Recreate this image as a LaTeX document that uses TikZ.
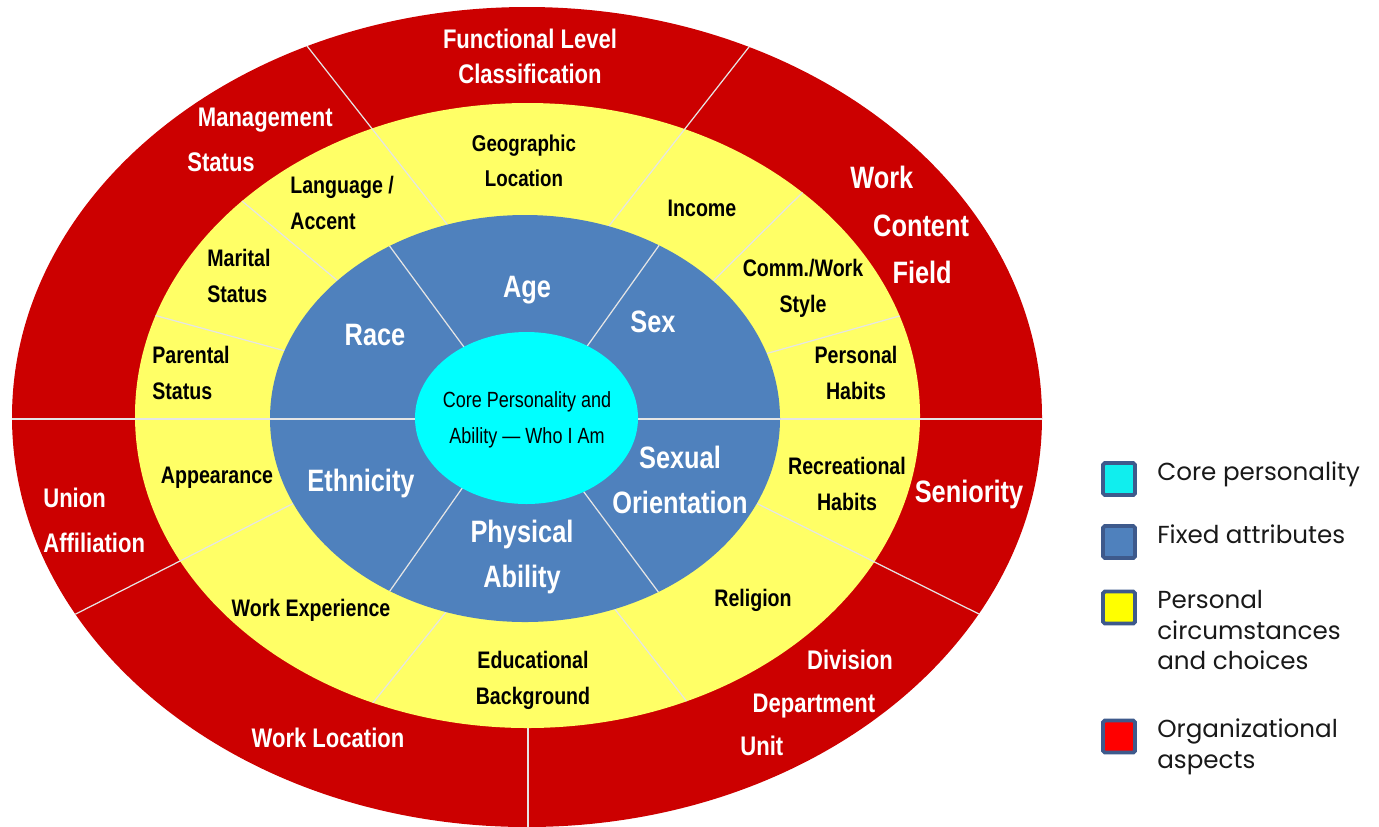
\documentclass[tikz,border=0pt]{standalone}
\usepackage{fontspec}
\setmainfont{Liberation Sans}
\newfontfamily\narrowfont[FakeStretch=0.82]{Liberation Sans}
\newfontfamily\keyfont{Poppins}
\usetikzlibrary{positioning}

\definecolor{orgred}{RGB}{204,0,0}
\definecolor{circyellow}{RGB}{255,255,102}
\definecolor{fixedblue}{RGB}{79,129,189}
\definecolor{corecyan}{RGB}{0,255,255}
\definecolor{keyborder}{RGB}{62,90,140}
\definecolor{keycyan}{RGB}{16,238,238}
\definecolor{keyblue}{RGB}{79,129,189}
\definecolor{keyyellow}{RGB}{255,255,0}
\definecolor{keyred}{RGB}{255,0,0}

\tikzset{
  divider/.style={white!80!gray, line width=0.7pt},
  orglabel/.style={text=white, inner sep=0pt, align=center,
    font=\narrowfont\bfseries\fontsize{15.3}{25.5}\selectfont},
  biglabel/.style={orglabel, font=\narrowfont\bfseries\fontsize{17.6}{27}\selectfont},
  circlabel/.style={text=black, inner sep=0pt, align=center,
    font=\narrowfont\bfseries\fontsize{13.6}{20.4}\selectfont},
  fixedlabel/.style={text=white, inner sep=0pt, align=center,
    font=\narrowfont\bfseries\fontsize{17.6}{25.5}\selectfont},
  corelabel/.style={text=black, inner sep=0pt, align=center,
    font=\narrowfont\fontsize{12.5}{20.4}\selectfont},
  keybox/.style={draw=keyborder, line width=2.2pt, rounded corners=1pt,
    minimum size=6.4mm, inner sep=0pt},
  keytext/.style={inner sep=0pt, align=left, text=black!90,
    font=\keyfont\fontsize{14}{17.6}\selectfont}
}

\begin{document}
\begin{tikzpicture}[x=0.2mm, y=-0.2mm]
  % Canvas
  \fill[white] (0,0) rectangle (1379,826);
  \useasboundingbox (0,0) rectangle (1379,826);

  % Organizational aspects
  \fill[orgred] (527,417) ellipse [x radius=515, y radius=410];
  \begin{scope}
    \clip (527,417) ellipse [x radius=515, y radius=410];
    \foreach \xa/\ya/\xb/\yb in {300/37/450/228, 756/38/605/231, 0/419/1379/419,
                                 60/622/300/500, 995/622/750/500, 528/700/528/830}
      \draw[divider] (\xa,\ya) -- (\xb,\yb);
  \end{scope}

  % Personal circumstances and choices
  \fill[circyellow] (527.5,415.5) ellipse [x radius=392.5, y radius=312.5];
  \begin{scope}
    \clip (527.5,415.5) ellipse [x radius=392.5, y radius=312.5];
    \foreach \xa/\ya/\xb/\yb in {300/37/450/228, 756/38/605/231, 0/419/1379/419,
                                 60/622/300/500, 995/622/750/500,
                                 230/191/345/287, 150/314/300/355, 810/185/700/294,
                                 910/313/765/354, 450/607/368/709, 614/608/688/703}
      \draw[divider] (\xa,\ya) -- (\xb,\yb);
  \end{scope}

  % Fixed attributes
  \fill[fixedblue] (525,418.5) ellipse [x radius=255, y radius=203.5];
  \begin{scope}
    \clip (525,418.5) ellipse [x radius=255, y radius=203.5];
    \foreach \xa/\ya/\xb/\yb in {0/419/1379/419, 380/233/475/362, 670/230/578/359,
                                 470/477/380/605, 575/480/668/605}
      \draw[divider] (\xa,\ya) -- (\xb,\yb);
  \end{scope}

  % Core personality
  \fill[corecyan] (526.5,418) ellipse [x radius=111.5, y radius=86];

  % Outer ring labels
  \node[orglabel, font=\narrowfont\bfseries\fontsize{15.3}{19.8}\selectfont] (funclevel) at (530,56) {Functional Level\\Classification};
  \node[orglabel, anchor=west, align=left] (mgmt) at (187,140) {\hspace*{6pt}Management\\Status};
  \node[biglabel, anchor=west, align=left] (workcontent) at (850,225) {Work\\\hspace*{13pt}Content\\\hspace*{24pt}Field};
  \node[biglabel] (seniority) at (969,494) {Seniority};
  \node[orglabel, anchor=west, align=left, font=\narrowfont\bfseries\fontsize{15.3}{24.4}\selectfont] (division) at (740,703) {\hspace*{38pt}Division\\\hspace*{7pt}Department\\Unit};
  \node[orglabel] (worklocation) at (328,738) {Work Location};
  \node[orglabel, anchor=west, align=left] (union) at (43,520) {Union\\Affiliation};

  % Middle ring labels
  \node[circlabel, font=\narrowfont\bfseries\fontsize{13}{19.8}\selectfont] (geo) at (524,161) {Geographic\\Location};
  \node[circlabel, anchor=west, align=left] (lang) at (290,203) {Language /\\Accent};
  \node[circlabel, anchor=west, align=left] (marital) at (207,276) {Marital\\Status};
  \node[circlabel, anchor=west, align=left] (parental) at (152,373) {Parental\\Status};
  \node[circlabel] (income) at (702,208) {Income};
  \node[circlabel] (comm) at (803,288) {Comm./Work\\Style};
  \node[circlabel] (personal) at (856,373) {Personal\\Habits};
  \node[circlabel] (recreational) at (847,484) {Recreational\\Habits};
  \node[circlabel] (appearance) at (217,478) {Appearance};
  \node[circlabel] (workexp) at (311,610) {Work Experience};
  \node[circlabel] (religion) at (753,600) {Religion};
  \node[circlabel] (education) at (533,680) {Educational\\Background};

  % Inner ring labels
  \node[fixedlabel] (race) at (375,335) {Race};
  \node[fixedlabel] (age) at (527,290) {Age};
  \node[fixedlabel] (sex) at (653,322) {Sex};
  \node[fixedlabel] (ethnicity) at (361,483) {Ethnicity};
  \node[fixedlabel] (physical) at (522,557) {Physical\\Ability};
  \node[fixedlabel] (sexual) at (680,480) {Sexual\\Orientation};

  % Centre
  \node[corelabel] (core) at (527,420) {Core Personality and\\Ability \textemdash\ Who I Am};

  % Key
  \foreach \y/\col/\name in {479/keycyan/core, 542/keyblue/fixed, 607.5/keyyellow/personal, 736.5/keyred/org}
    \node[keybox, fill=\col] (key-\name) at (1119,\y) {};
  \node[keytext, right=4mm of key-core.north east, anchor=north west] (keytext-core) {Core personality};
  \node[keytext, right=4mm of key-fixed.north east, anchor=north west] (keytext-fixed) {Fixed attributes};
  \node[keytext, right=4mm of key-personal.north east, anchor=north west] (keytext-personal) {Personal\\circumstances\\and choices};
  \node[keytext, right=4mm of key-org.north east, anchor=north west] (keytext-org) {Organizational\\aspects};
\end{tikzpicture}
\end{document}
